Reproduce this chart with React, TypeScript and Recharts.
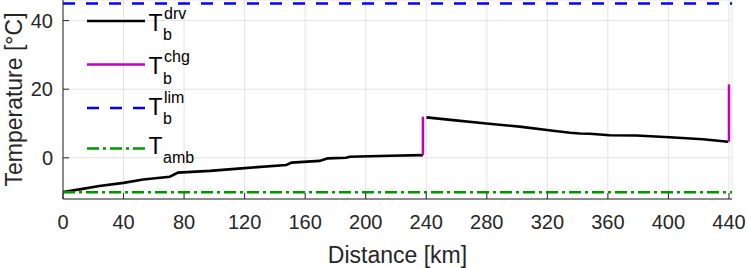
import React from "react";
import { ComposedChart, Line, XAxis, YAxis, CartesianGrid, Legend } from "recharts";

// battery temperature while driving (two legs, charging in between)
const drvLeg1Km = [0, 1, 11, 24, 40, 53, 70.5, 76, 97, 120, 147.5, 151, 169.5, 175, 187, 189.5, 216, 237.8];
const drvLeg1Temp = [-10, -9.9, -9.2, -8.2, -7.3, -6.3, -5.5, -4.3, -3.8, -3.0, -2.1, -1.4, -0.9, -0.15, 0.0, 0.3, 0.6, 0.8];
const drvLeg2Km = [240.1, 257.7, 279.7, 301.7, 323.7, 335, 341.4, 348, 361.2, 378.8, 400.8, 422.8, 439.5];
const drvLeg2Temp = [11.8, 11.0, 10.0, 9.1, 7.9, 7.3, 7.1, 7.0, 6.6, 6.5, 6.0, 5.4, 4.7];

// charging stops (vertical jumps)
const chg1Km = [237.8, 237.8];
const chg1Temp = [0.8, 12.0];
const chg2Km = [440, 440];
const chg2Temp = [4.7, 21.4];

// limit and ambient
const limKm = [0, 442];
const limTemp = [45, 45];
const ambKm = [0, 442];
const ambTemp = [-10, -10];

const xTicks = [0, 40, 80, 120, 160, 200, 240, 280, 320, 360, 400, 440];
const yTicks = [0, 20, 40];

const toRows = (km: number[], t: number[]) => km.map((d, i) => ({ d, t: t[i] }));

const FONT = "'Liberation Sans', Arial, Helvetica, sans-serif";
const AXIS = "#262626";

const legendItems = [
  { key: "drv", color: "#000000", dash: undefined, sup: "drv", sub: "b", textDy: 9.7 },
  { key: "chg", color: "#c000c0", dash: undefined, sup: "chg", sub: "b", textDy: 9.7 },
  { key: "lim", color: "#0000ff", dash: "12 11", sup: "lim", sub: "b", textDy: 6.7 },
  { key: "amb", color: "#009600", dash: "12 4 3 4", sup: "", sub: "amb", textDy: 5 },
];
const legendRowY = [21, 64.5, 108, 148.5];

function XTick({ x, y, payload }: any) {
  return (
    <g>
      <line x1={x} y1={y} x2={x} y2={y - 6} stroke={AXIS} strokeWidth={1} />
      <text x={x} y={y + 30} textAnchor="middle" fontSize={20} fontFamily={FONT} fill={AXIS}>
        {payload.value}
      </text>
    </g>
  );
}

function YTick({ x, y, payload }: any) {
  return (
    <g>
      <line x1={x} y1={y} x2={x + 6} y2={y} stroke={AXIS} strokeWidth={1} />
      <text x={x - 10} y={y + 7} textAnchor="end" fontSize={20} fontFamily={FONT} fill={AXIS}>
        {payload.value}
      </text>
    </g>
  );
}

function XTitle({ viewBox }: any) {
  return (
    <text x={viewBox.x + viewBox.width / 2} y={viewBox.y + viewBox.height - 5.3} textAnchor="middle"
      fontSize={23} fontFamily={FONT} fill={AXIS}>
      Distance [km]
    </text>
  );
}

function YTitle({ viewBox }: any) {
  const cx = 21.7;
  const cy = viewBox.y + viewBox.height / 2;
  return (
    <text x={cx} y={cy} transform={`rotate(-90, ${cx}, ${cy})`} textAnchor="middle"
      fontSize={23} fontFamily={FONT} fill={AXIS}>
      Temperature [°C]
    </text>
  );
}

function TempLegend() {
  return (
    <svg width={150} height={175} style={{ overflow: "visible" }}>
      {legendItems.map((it, i) => {
        const cy = legendRowY[i];
        const base = cy + it.textDy;
        return (
          <g key={it.key}>
            <line x1={3} y1={cy} x2={61} y2={cy} stroke={it.color} strokeWidth={2.5} strokeDasharray={it.dash} />
            <text x={64.5} y={base} fontSize={23} fontFamily={FONT} fill="#000">T</text>
            {it.sup && (
              <text x={80} y={base - 12} fontSize={16} fontFamily={FONT} fill="#000">{it.sup}</text>
            )}
            <text x={79} y={base + 9.5} fontSize={16} fontFamily={FONT} fill="#000">{it.sub}</text>
          </g>
        );
      })}
    </svg>
  );
}

export default function App() {
  return (
    <div style={{ position: "absolute", left: 0, top: 0 }}>
      <ComposedChart width={747} height={268} margin={{ top: 0, right: 15, bottom: 0, left: 0 }}>
        <CartesianGrid stroke="#e3e3e3" strokeWidth={1} />
        <XAxis dataKey="d" type="number" domain={[0, 442]} ticks={xTicks} height={69}
          axisLine={{ stroke: AXIS, strokeWidth: 1 }} tickLine={false} tickSize={0} tickMargin={0}
          tick={<XTick />} interval={0} label={<XTitle />} />
        <YAxis type="number" domain={[-12, 46]} ticks={yTicks} width={63}
          axisLine={{ stroke: AXIS, strokeWidth: 1 }} tickLine={false} tickSize={0} tickMargin={0}
          tick={<YTick />} interval={0} label={<YTitle />} />
        <Legend layout="horizontal" verticalAlign="middle" align="center" content={<TempLegend />}
          wrapperStyle={{ position: "absolute", left: 84, top: 0, width: 150, height: 175 }} />
        <Line name="drv" data={toRows(drvLeg1Km, drvLeg1Temp)} dataKey="t" stroke="#000000" strokeWidth={2.6}
          dot={false} activeDot={false} isAnimationActive={false} />
        <Line name="drv2" legendType="none" data={toRows(drvLeg2Km, drvLeg2Temp)} dataKey="t" stroke="#000000"
          strokeWidth={2.6} dot={false} activeDot={false} isAnimationActive={false} />
        <Line name="chg" data={toRows(chg1Km, chg1Temp)} dataKey="t" stroke="#c000c0" strokeWidth={2.5}
          dot={false} activeDot={false} isAnimationActive={false} />
        <Line name="chg2" legendType="none" data={toRows(chg2Km, chg2Temp)} dataKey="t" stroke="#c000c0"
          strokeWidth={2.5} dot={false} activeDot={false} isAnimationActive={false} />
        <Line name="lim" data={toRows(limKm, limTemp)} dataKey="t" stroke="#0000ff" strokeWidth={2.5}
          strokeDasharray="12 11" dot={false} activeDot={false} isAnimationActive={false} />
        <Line name="amb" data={toRows(ambKm, ambTemp)} dataKey="t" stroke="#009600" strokeWidth={2.5}
          strokeDasharray="12 4 3 4" dot={false} activeDot={false} isAnimationActive={false} />
      </ComposedChart>
    </div>
  );
}
